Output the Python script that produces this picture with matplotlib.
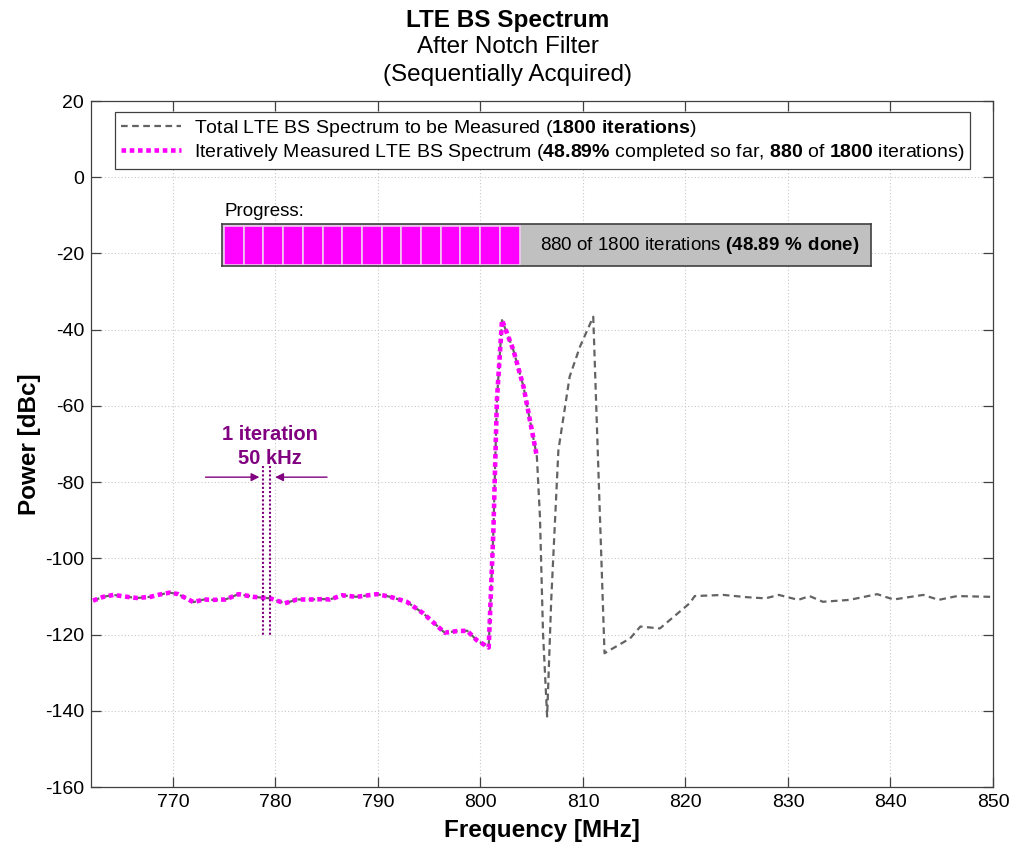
import matplotlib
matplotlib.use("Agg")
import matplotlib.pyplot as plt
from matplotlib.lines import Line2D
from matplotlib.patches import Rectangle

plt.rcParams['font.family'] = ['Liberation Sans', 'DejaVu Sans']
plt.rcParams['mathtext.fontset'] = 'custom'
plt.rcParams['mathtext.rm'] = 'Liberation Sans'
plt.rcParams['mathtext.bf'] = 'Liberation Sans:bold'
plt.rcParams['axes.unicode_minus'] = False

# ---------------- data ----------------
freq_mhz = [762.2, 763.2, 764.2, 765.5, 766.5, 767.8, 768.7, 769.7, 770.5, 772.0,
            773.0, 773.9, 775.1, 776.4, 777.8, 779.5, 780.9, 782.1, 783.4, 784.7,
            785.3, 786.5, 787.9, 789.9, 791.2, 792.8, 794.4, 796.5, 797.7, 798.7,
            799.6, 800.8, 801.25, 801.6, 802.1, 803.2, 804.2, 805.5,
            805.8, 806.1, 806.5, 806.9, 807.6, 808.7, 809.7, 811.0, 812.1, 814.6,
            815.6, 817.5, 820.4, 820.9, 823.7, 826.0, 827.8, 829.1, 831.0, 832.1,
            833.4, 836.0, 838.7, 840.3, 843.2, 844.7, 846.5, 849.7, 850.0]
power_dbc = [-111.1, -110.1, -109.6, -110.1, -110.4, -110.1, -109.5, -109.0, -109.4, -111.5,
             -110.8, -110.9, -110.8, -109.4, -110.1, -110.5, -111.8, -110.8, -110.8, -110.7,
             -110.8, -109.7, -110.1, -109.4, -110.1, -111.4, -114.4, -119.5, -119.1, -119.0,
             -121.4, -123.4, -93.4, -58.5, -37.5, -45.3, -55.0, -73.3,
             -89.1, -119.7, -141.5, -110.9, -71.6, -52.3, -44.5, -36.6, -124.9, -121.0,
             -117.9, -118.4, -111.8, -109.9, -109.6, -110.2, -110.5, -109.6, -110.9, -109.9,
             -111.4, -110.9, -109.4, -110.8, -109.6, -110.9, -109.9, -110.1, -110.1]
n_measured_points = 38          # points already acquired (up to 805.5 MHz)
iterations_done = 880
iterations_total = 1800
pct_done = 48.89
n_progress_blocks = 15

x_ticks = [770, 780, 790, 800, 810, 820, 830, 840, 850]
y_ticks = [-160, -140, -120, -100, -80, -60, -40, -20, 0, 20]

# ---------------- figure ----------------
W, H = 1015, 843
fig = plt.figure(figsize=(W / 100, H / 100), dpi=100)
ax = fig.add_axes([91 / W, 1 - 787 / H, (993 - 91) / W, (787 - 101) / H])

gray = '#636363'
magenta = '#ff00ff'
purple = '#800080'
gray_ls = (0, (3, 2))
mag_ls = (0, (1.0, 0.8))

ax.plot(freq_mhz, power_dbc, color=gray, lw=1.6, ls=gray_ls, zorder=3)
ax.plot(freq_mhz[:n_measured_points], power_dbc[:n_measured_points],
        color=magenta, lw=3.3, ls=mag_ls, zorder=4)

ax.set_xlim(762, 850)
ax.set_ylim(-160, 20)
ax.set_xticks(x_ticks)
ax.set_yticks(y_ticks)
ax.tick_params(direction='in', length=7, width=0.9, colors='#404040',
               labelcolor='black', labelsize=14, top=True, right=True)
ax.tick_params(axis='x', pad=5)
ax.tick_params(axis='y', pad=5)
for s in ax.spines.values():
    s.set_color('#404040')
    s.set_linewidth(0.9)
ax.grid(True, color='#c8c8c8', ls=(0, (1, 2)), lw=0.8)
ax.set_axisbelow(True)

ax.set_xlabel('Frequency [MHz]', fontsize=17.5, fontweight='bold', labelpad=6)
ax.set_ylabel('Power [dBc]', fontsize=17.5, fontweight='bold', labelpad=2.5)

fig.text(0.5, 1 - 20 / H, 'LTE BS Spectrum', ha='center', va='center',
         fontsize=17.5, fontweight='bold')
fig.text(0.5, 1 - 47 / H, 'After Notch Filter', ha='center', va='center', fontsize=17.5)
fig.text(0.5, 1 - 75 / H, '(Sequentially Acquired)', ha='center', va='center', fontsize=17.5)

# legend
handles = [Line2D([], [], color=gray, lw=1.6, ls=gray_ls),
           Line2D([], [], color=magenta, lw=3.3, ls=mag_ls)]
labels = [r'Total LTE BS Spectrum to be Measured ($\mathbf{%d\ iterations}$)' % iterations_total,
          r'Iteratively Measured LTE BS Spectrum ($\mathbf{%.2f\%%}$ completed so far, '
          r'$\mathbf{%d}$ of $\mathbf{%d}$ iterations)' % (pct_done, iterations_done, iterations_total)]
leg = ax.legend(handles, labels, loc='upper left', bbox_to_anchor=(0.027, 0.984),
                borderaxespad=0, fontsize=14, handlelength=3.1, handletextpad=0.65,
                fancybox=False, framealpha=1, edgecolor='#404040',
                borderpad=0.3, labelspacing=0.15)
leg.get_frame().set_linewidth(0.9)

# 1 iteration annotation
for xv in (778.8, 779.5):
    ax.plot([xv, xv], [-75.7, -120], color=purple, lw=1.5, ls=(0, (1, 1)), zorder=5)
ax.annotate('', xy=(778.7, -78.7), xytext=(772.9, -78.7),
            arrowprops=dict(arrowstyle='-|>', color=purple, lw=1, mutation_scale=12))
ax.annotate('', xy=(779.7, -78.7), xytext=(785.3, -78.7),
            arrowprops=dict(arrowstyle='-|>', color=purple, lw=1, mutation_scale=12))
ax.text(779.5, -67.6, '1 iteration', color=purple, fontsize=14.5, fontweight='bold',
        ha='center', va='center')
ax.text(779.5, -73.7, '50 kHz', color=purple, fontsize=14.5, fontweight='bold',
        ha='center', va='center')

# progress bar
fig.text(225 / W, 1 - 211 / H, 'Progress:', fontsize=13.5, ha='left', va='center')
pax = fig.add_axes([222 / W, 1 - 266 / H, (871 - 222) / W, (266 - 224) / H])
pax.set_facecolor('#c0c0c0')
pax.set_xlim(0, 649)
pax.set_ylim(0, 42)
pax.set_xticks([])
pax.set_yticks([])
for s in pax.spines.values():
    s.set_color('#404040')
    s.set_linewidth(1.2)
block_w = 19.7
for i in range(n_progress_blocks):
    pax.add_patch(Rectangle((2 + i * block_w, 1.5), block_w, 39,
                            facecolor=magenta, edgecolor='#f0c8f0', lw=1.2))
pax.text(638, 21, r'%d of %d iterations $\mathbf{(%.2f\ \%%\ done)}$'
         % (iterations_done, iterations_total, pct_done),
         ha='right', va='center', fontsize=13.5)

fig.savefig('out.png', dpi=100)
